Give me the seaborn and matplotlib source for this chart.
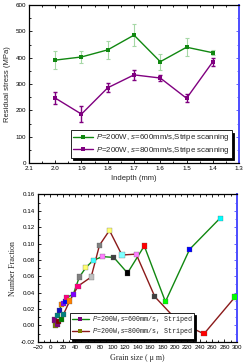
import matplotlib
matplotlib.use("Agg")
import matplotlib.pyplot as plt
import numpy as np
import seaborn as sns
from matplotlib.lines import Line2D
from matplotlib.ticker import MultipleLocator, FormatStrFormatter

sns.set_theme(style="ticks")
plt.rcParams["font.family"] = ["Liberation Sans", "DejaVu Sans"]
plt.rcParams["mathtext.fontset"] = "custom"
plt.rcParams["mathtext.it"] = "Liberation Sans:italic"
plt.rcParams["mathtext.rm"] = "Liberation Sans"

# top panel: residual stress vs depth
depth = [2.0, 1.9, 1.8, 1.7, 1.6, 1.5, 1.4]
stress_600 = [391, 403, 430, 486, 385, 440, 419]
err_600 = [34, 22, 33, 41, 31, 34, 10]
stress_800 = [247, 186, 286, 335, 323, 246, 385]
err_800 = [24, 30, 17, 20, 12, 15, 15]
label_600 = "$P$=200W, $s$=600mm/s,Stripe scanning"
label_800 = "$P$=200W, $s$=800mm/s,Stripe scanning"

# bottom panel: grain size distribution
grain_600 = [6.5, 12, 14, 18, 21, 25, 26, 36.8, 46.5, 57, 69, 84, 102, 124, 151, 185, 224, 273]
frac_600 = [0.0065, 0.012, 0.018, 0.0257, 0.0265, 0.0294, 0.034, 0.038, 0.059, 0.0706,
            0.0796, 0.084, 0.083, 0.064, 0.097, 0.029, 0.093, 0.131]
grain_800 = [7.6, 11.4, 12.5, 18, 21, 31, 44.4, 65.5, 79, 95, 115, 138, 168, 205, 247, 297]
frac_800 = [-0.0005, 0.0012, 0.0044, 0.0069, 0.0135, 0.0298, 0.048, 0.059, 0.098, 0.116,
            0.086, 0.087, 0.035, 0.005, -0.0103, 0.0347]
label_g600 = "$P$=200W,$s$=600mm/s, Striped"
label_g800 = "$P$=200W,$s$=800mm/s, Striped"

# per-point marker colours (Origin style increment)
colors_600 = ["#800080", "#008080", "#1010c0", "#ff8000", "#8000ff", "#0000ff", "#ff0080",
              "#8000ff", "#808080", "#ffff70", "#40ffff", "#ff80ff", "#404040", "#000000",
              "#ff0000", "#00ff00", "#0000ff", "#00ffff"]
colors_800 = ["#808000", "#800080", "#800000", "#008000", "#008080", "#ff8000", "#ff0080",
              "#c0c0c0", "#808080", "#ffff70", "#80ffff", "#ff80ff", "#404040", "#808080",
              "#ff0000", "#00ff00"]

GREEN = "#118811"
PURPLE = "#800080"
WINE = "#8b1a1a"
BLUE_AX = "#5050ff"

fig = plt.figure(figsize=(2.45, 3.64), dpi=100)
ax1 = fig.add_axes([0.118, 0.552, 0.858, 0.434])
ax2 = fig.add_axes([0.155, 0.061, 0.812, 0.405])


def style_axis(ax, tick_fs=4.5):
    ax.tick_params(which="both", direction="in", top=True, right=False, labelsize=tick_fs,
                   width=0.6, pad=2, colors="black")
    ax.tick_params(which="major", length=2.5)
    ax.tick_params(which="minor", length=1.5)
    for sp in ax.spines.values():
        sp.set_linewidth(0.9)
        sp.set_color("black")
    ax.spines["right"].set_color(BLUE_AX)
    ax.spines["right"].set_linewidth(1.4)
    twin = ax.twinx()
    twin.set_ylim(ax.get_ylim())
    twin.yaxis.set_major_locator(ax.yaxis.get_major_locator())
    twin.yaxis.set_minor_locator(ax.yaxis.get_minor_locator())
    twin.tick_params(which="both", direction="in", colors=BLUE_AX, labelright=False, width=0.6)
    twin.tick_params(which="major", length=2.5)
    twin.tick_params(which="minor", length=1.5)
    for sp in twin.spines.values():
        sp.set_visible(False)
    twin.spines["right"].set_visible(True)
    twin.spines["right"].set_color(BLUE_AX)
    twin.spines["right"].set_linewidth(1.4)
    twin.set_zorder(ax.get_zorder() - 1)
    return twin


def boxed_legend(ax, handles, labels, anchor, prop):
    leg = ax.legend(handles, labels, loc="lower right", bbox_to_anchor=anchor, prop=prop,
                    frameon=True, fancybox=False, framealpha=1.0, handlelength=2.6,
                    handletextpad=0.4, borderpad=0.25, labelspacing=0.15, borderaxespad=0,
                    shadow={"color": "black", "alpha": 1.0, "ox": 1.6, "oy": -1.6})
    leg.get_frame().set_edgecolor("black")
    leg.get_frame().set_facecolor("white")
    leg.get_frame().set_linewidth(0.6)
    leg.set_zorder(10)
    return leg


# ---- top panel
ax1.errorbar(depth, stress_600, yerr=err_600, fmt="none", ecolor="#a6d8a6", elinewidth=0.8,
             capsize=1.5, capthick=0.8, zorder=2)
ax1.errorbar(depth, stress_800, yerr=err_800, fmt="none", ecolor=PURPLE, elinewidth=1.0,
             capsize=1.5, capthick=1.0, zorder=2)
sns.lineplot(x=depth, y=stress_600, ax=ax1, color=GREEN, marker="s", markersize=3,
             markeredgewidth=0, linewidth=1.0, sort=False, zorder=3)
sns.lineplot(x=depth, y=stress_800, ax=ax1, color=PURPLE, marker="s", markersize=3,
             markeredgewidth=0, linewidth=1.0, sort=False, zorder=3)
ax1.set_xlim(2.1, 1.3)
ax1.set_ylim(0, 600)
ax1.xaxis.set_major_locator(MultipleLocator(0.1))
ax1.xaxis.set_minor_locator(MultipleLocator(0.05))
ax1.xaxis.set_major_formatter(FormatStrFormatter("%.1f"))
ax1.yaxis.set_major_locator(MultipleLocator(100))
ax1.yaxis.set_minor_locator(MultipleLocator(50))
ax1.set_xlabel("Indepth (mm)", fontsize=5.5, labelpad=3)
ax1.set_ylabel("Residual stress (MPa)", fontsize=5.5, labelpad=3)
style_axis(ax1)
ax1.patch.set_visible(False)

h1 = [Line2D([], [], color=GREEN, marker="s", markersize=2.5, markeredgewidth=0, linewidth=1.0),
      Line2D([], [], color=PURPLE, marker="s", markersize=2.5, markeredgewidth=0, linewidth=1.0)]
boxed_legend(ax1, h1, [label_600, label_800], (0.967, 0.035),
             {"family": "Liberation Sans", "size": 5.7})

# ---- bottom panel
sns.lineplot(x=grain_600, y=frac_600, ax=ax2, color=GREEN, linewidth=1.0, sort=False, zorder=2)
sns.lineplot(x=grain_800, y=frac_800, ax=ax2, color=WINE, linewidth=1.0, sort=False, zorder=2)
sns.scatterplot(x=grain_600, y=frac_600, ax=ax2, hue=list(range(len(grain_600))),
                palette=colors_600, marker="s", s=14, linewidth=0.2, edgecolor="#555555",
                legend=False, zorder=3)
sns.scatterplot(x=grain_800, y=frac_800, ax=ax2, hue=list(range(len(grain_800))),
                palette=colors_800, marker="s", s=14, linewidth=0.2, edgecolor="#555555",
                legend=False, zorder=3)
ax2.set_xlim(-20, 300)
ax2.set_ylim(-0.02, 0.16)
ax2.xaxis.set_major_locator(MultipleLocator(20))
ax2.xaxis.set_minor_locator(MultipleLocator(10))
ax2.yaxis.set_major_locator(MultipleLocator(0.02))
ax2.yaxis.set_minor_locator(MultipleLocator(0.01))
ax2.yaxis.set_major_formatter(FormatStrFormatter("%.2f"))
ax2.set_xlabel("Grain size ( μ m)", fontsize=5.8, family="Liberation Serif", labelpad=3)
ax2.set_ylabel("Number Fraction", fontsize=5.8, family="Liberation Serif", labelpad=3)
style_axis(ax2)
ax2.patch.set_visible(False)

h2 = [Line2D([], [], color=GREEN, marker="s", markersize=3.5, markerfacecolor=PURPLE,
             markeredgewidth=0, linewidth=1.0),
      Line2D([], [], color=WINE, marker="s", markersize=3.5, markerfacecolor="#808000",
             markeredgewidth=0, linewidth=1.0)]
boxed_legend(ax2, h2, [label_g600, label_g800], (0.785, 0.02),
             {"family": "Liberation Mono", "size": 4.8})

fig.savefig("out.png", dpi=100)
